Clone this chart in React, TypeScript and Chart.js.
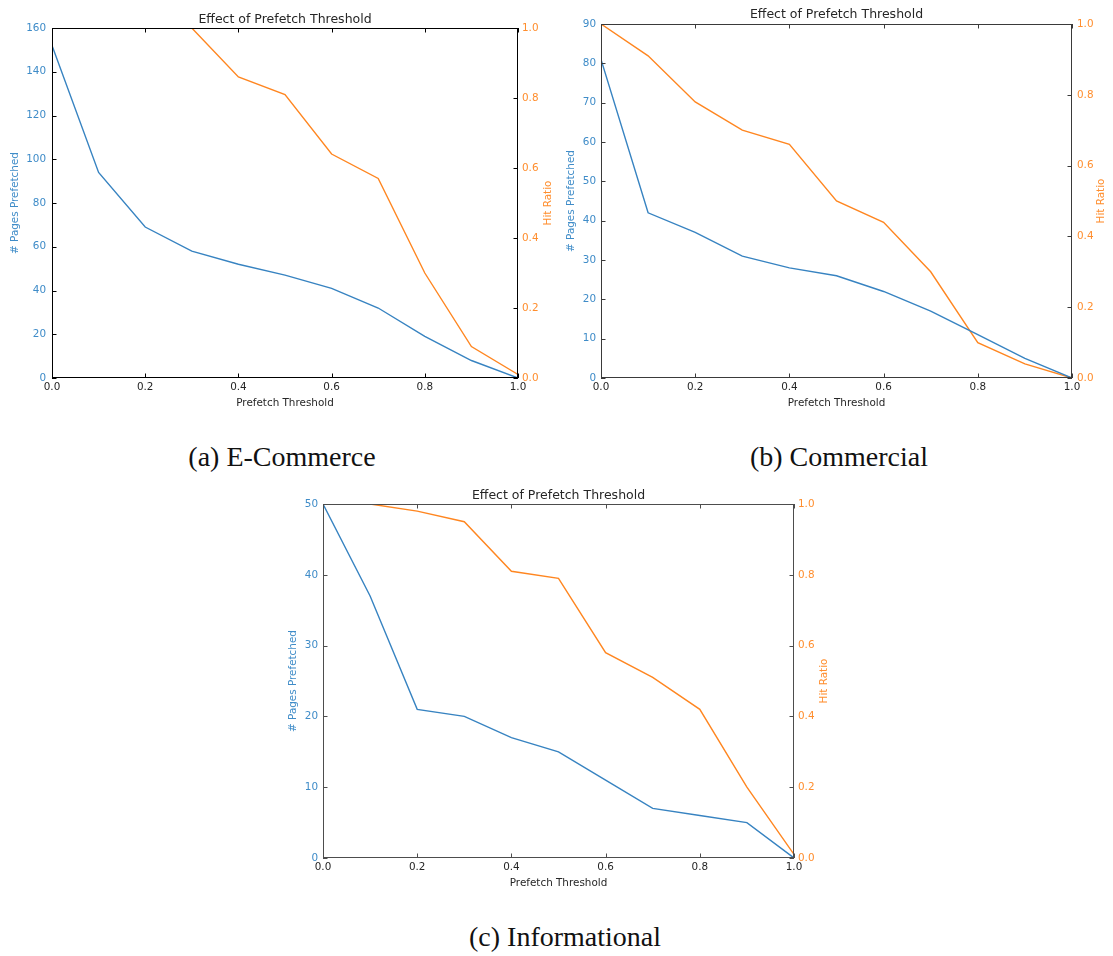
import React, { useEffect, useRef } from "react";
import { Chart, registerables } from "chart.js";

Chart.register(...registerables);

// ---------------- data ----------------
const thresholds = [0.0, 0.1, 0.2, 0.3, 0.4, 0.5, 0.6, 0.7, 0.8, 0.9, 1.0];

const ecommercePages = [152, 94, 69, 58, 52, 47, 41, 32, 19, 8, 0];
const ecommerceHitRatio = [1.0, 1.0, 1.0, 1.0, 0.86, 0.81, 0.64, 0.57, 0.3, 0.09, 0.01];

const commercialPages = [81, 42, 37, 31, 28, 26, 22, 17, 11, 5, 0];
const commercialHitRatio = [1.0, 0.91, 0.78, 0.7, 0.66, 0.5, 0.44, 0.3, 0.1, 0.04, 0.0];

const informationalPages = [50, 37, 21, 20, 17, 15, 11, 7, 6, 5, 0];
const informationalHitRatio = [1.0, 1.0, 0.98, 0.95, 0.81, 0.79, 0.58, 0.51, 0.42, 0.2, 0.01];

const xTickValues = [0.0, 0.2, 0.4, 0.6, 0.8, 1.0];
const hitTickValues = [0.0, 0.2, 0.4, 0.6, 0.8, 1.0];
const ecommercePageTicks = [0, 20, 40, 60, 80, 100, 120, 140, 160];
const commercialPageTicks = [0, 10, 20, 30, 40, 50, 60, 70, 80, 90];
const informationalPageTicks = [0, 10, 20, 30, 40, 50];

const chartTitle = "Effect of Prefetch Threshold";
const xAxisTitle = "Prefetch Threshold";
const leftAxisTitle = "# Pages Prefetched";
const rightAxisTitle = "Hit Ratio";

const captionA = "(a) E-Commerce";
const captionB = "(b) Commercial";
const captionC = "(c) Informational";

// ---------------- styles ----------------
const BLUE_LINE = "#3783c1";
const BLUE_TEXT = "#3f8cc8";
const ORANGE_LINE = "#ff8620";
const ORANGE_TEXT = "#ff8e2e";
const FONT = '"DejaVu Sans", sans-serif';

type Panel = {
  left: number;
  top: number;
  w: number;
  h: number;
  area: { l: number; t: number; r: number; b: number };
  titleCenter: number;
  leftTitleX: number;
  rightTitleX: number;
  leftPad: number;
  rightPad: number;
  spine: string;
  pages: number[];
  hits: number[];
  pageTicks: number[];
};

function ChartPanel({ p }: { p: Panel }) {
  const ref = useRef<HTMLCanvasElement | null>(null);

  useEffect(() => {
    if (!ref.current) return;
    const titleFont = 12.5;
    const titleLH = titleFont * 1.2;
    const labelFont = 10.4;
    const labelLH = labelFont * 1.2;
    const padTop = p.titleCenter - titleLH / 2;
    const padBottom = p.area.t - padTop - titleLH;
    const pageMax = p.pageTicks[p.pageTicks.length - 1];

    const framePlugin = {
      id: "frameTicks",
      afterDatasetsDraw(chart: any) {
        const { ctx, chartArea: a, scales } = chart;
        ctx.save();
        ctx.strokeStyle = p.spine;
        ctx.lineWidth = 1;
        const L = Math.round(a.left);
        const R = Math.round(a.right);
        const T = Math.round(a.top);
        const B = Math.round(a.bottom);
        ctx.strokeRect(L + 0.5, T + 0.5, R - L - 1, B - T - 1);
        const tl = 4.5;
        ctx.beginPath();
        for (const t of scales.x.ticks) {
          const px = Math.round(scales.x.getPixelForValue(t.value)) + 0.5;
          ctx.moveTo(px, B);
          ctx.lineTo(px, B - tl);
          ctx.moveTo(px, T);
          ctx.lineTo(px, T + tl);
        }
        for (const t of scales.y.ticks) {
          const py = Math.round(scales.y.getPixelForValue(t.value)) + 0.5;
          ctx.moveTo(L, py);
          ctx.lineTo(L + tl, py);
        }
        for (const t of scales.y1.ticks) {
          const py = Math.round(scales.y1.getPixelForValue(t.value)) + 0.5;
          ctx.moveTo(R, py);
          ctx.lineTo(R - tl, py);
        }
        ctx.stroke();
        // right axis title (reads bottom to top)
        ctx.translate(p.rightTitleX, (a.top + a.bottom) / 2);
        ctx.rotate(-Math.PI / 2);
        ctx.fillStyle = ORANGE_TEXT;
        ctx.font = `${labelFont}px ${FONT}`;
        ctx.textAlign = "center";
        ctx.textBaseline = "middle";
        ctx.fillText(rightAxisTitle, 0, 0);
        ctx.restore();
      },
    };

    const chart = new Chart(ref.current, {
      type: "line",
      data: {
        datasets: [
          {
            label: leftAxisTitle,
            data: thresholds.map((x, i) => ({ x, y: p.pages[i] })),
            borderColor: BLUE_LINE,
            backgroundColor: BLUE_LINE,
            borderWidth: 1.4,
            pointRadius: 0,
            tension: 0,
            fill: false,
            xAxisID: "x",
            yAxisID: "y",
            clip: 0,
          },
          {
            label: rightAxisTitle,
            data: thresholds.map((x, i) => ({ x, y: p.hits[i] })),
            borderColor: ORANGE_LINE,
            backgroundColor: ORANGE_LINE,
            borderWidth: 1.4,
            pointRadius: 0,
            tension: 0,
            fill: false,
            xAxisID: "x",
            yAxisID: "y1",
            clip: 0,
          },
        ],
      },
      options: {
        responsive: false,
        animation: false,
        devicePixelRatio: 1,
        layout: { padding: 0, autoPadding: false },
        plugins: {
          legend: { display: false },
          tooltip: { enabled: false },
          title: {
            display: true,
            text: chartTitle,
            fullSize: false,
            color: "#262626",
            font: { family: FONT, size: titleFont, weight: "normal" },
            padding: { top: padTop, bottom: padBottom },
          },
        },
        scales: {
          x: {
            type: "linear",
            position: "bottom",
            min: 0,
            max: 1,
            grid: { display: false, drawTicks: false },
            border: { display: false },
            afterBuildTicks: (s: any) => {
              s.ticks = xTickValues.map((v) => ({ value: v }));
            },
            afterFit: (s: any) => {
              s.height = p.h - p.area.b;
            },
            ticks: {
              autoSkip: false,
              maxRotation: 0,
              padding: 3,
              color: "#262626",
              font: { family: FONT, size: labelFont },
              callback: (v: any) => Number(v).toFixed(1),
            },
            title: {
              display: true,
              text: xAxisTitle,
              color: "#262626",
              font: { family: FONT, size: labelFont },
              padding: { top: 0, bottom: 420 - 403 - labelLH / 2 },
            },
          },
          y: {
            type: "linear",
            position: "left",
            min: 0,
            max: pageMax,
            grid: { display: false, drawTicks: false },
            border: { display: false },
            afterBuildTicks: (s: any) => {
              s.ticks = p.pageTicks.map((v) => ({ value: v }));
            },
            afterFit: (s: any) => {
              s.width = p.area.l;
            },
            ticks: {
              autoSkip: false,
              padding: p.leftPad,
              color: BLUE_TEXT,
              font: { family: FONT, size: labelFont },
              callback: (v: any) => String(v),
            },
            title: {
              display: true,
              text: leftAxisTitle,
              color: BLUE_TEXT,
              font: { family: FONT, size: labelFont },
              padding: { top: p.leftTitleX - labelLH / 2, bottom: 0 },
            },
          },
          y1: {
            type: "linear",
            position: "right",
            min: 0,
            max: 1,
            grid: { display: false, drawTicks: false },
            border: { display: false },
            afterBuildTicks: (s: any) => {
              s.ticks = hitTickValues.map((v) => ({ value: v }));
            },
            afterFit: (s: any) => {
              s.width = p.w - p.area.r;
            },
            ticks: {
              autoSkip: false,
              padding: p.rightPad,
              color: ORANGE_TEXT,
              font: { family: FONT, size: labelFont },
              callback: (v: any) => Number(v).toFixed(1),
            },
          },
        },
      },
      plugins: [framePlugin],
    } as any);

    return () => chart.destroy();
  }, [p]);

  return (
    <canvas
      ref={ref}
      width={p.w}
      height={p.h}
      style={{ position: "absolute", left: p.left, top: p.top, width: p.w, height: p.h }}
    />
  );
}

const panelA: Panel = {
  left: 0, top: 0, w: 560, h: 420,
  area: { l: 52, t: 28, r: 518, b: 378 },
  titleCenter: 19.5, leftTitleX: 15, rightTitleX: 548, leftPad: 6, rightPad: 4,
  spine: "#000000",
  pages: ecommercePages, hits: ecommerceHitRatio, pageTicks: ecommercePageTicks,
};

const panelB: Panel = {
  left: 560, top: 0, w: 553, h: 420,
  area: { l: 41, t: 24, r: 512, b: 378 },
  titleCenter: 14.5, leftTitleX: 11, rightTitleX: 541.7, leftPad: 5, rightPad: 5,
  spine: "#3a3a3a",
  pages: commercialPages, hits: commercialHitRatio, pageTicks: commercialPageTicks,
};

const panelC: Panel = {
  left: 270, top: 480, w: 570, h: 420,
  area: { l: 53, t: 24, r: 524, b: 378 },
  titleCenter: 15.5, leftTitleX: 23, rightTitleX: 554, leftPad: 5, rightPad: 4,
  spine: "#4d4d4d",
  pages: informationalPages, hits: informationalHitRatio, pageTicks: informationalPageTicks,
};

function Caption({ text, cx, top }: { text: string; cx: number; top: number }) {
  return (
    <div
      style={{
        position: "absolute",
        left: cx - 200,
        top,
        width: 400,
        textAlign: "center",
        fontFamily: '"Liberation Serif", "Times New Roman", serif',
        fontSize: 28,
        lineHeight: "32px",
        color: "#111",
        whiteSpace: "nowrap",
      }}
    >
      {text}
    </div>
  );
}

export default function App() {
  return (
    <div
      style={{
        position: "absolute",
        left: 0,
        top: 0,
        width: 1113,
        height: 956,
        background: "#ffffff",
        overflow: "hidden",
      }}
    >
      <ChartPanel p={panelA} />
      <ChartPanel p={panelB} />
      <ChartPanel p={panelC} />
      <Caption text={captionA} cx={282} top={441} />
      <Caption text={captionB} cx={839} top={441} />
      <Caption text={captionC} cx={565} top={921} />
    </div>
  );
}
